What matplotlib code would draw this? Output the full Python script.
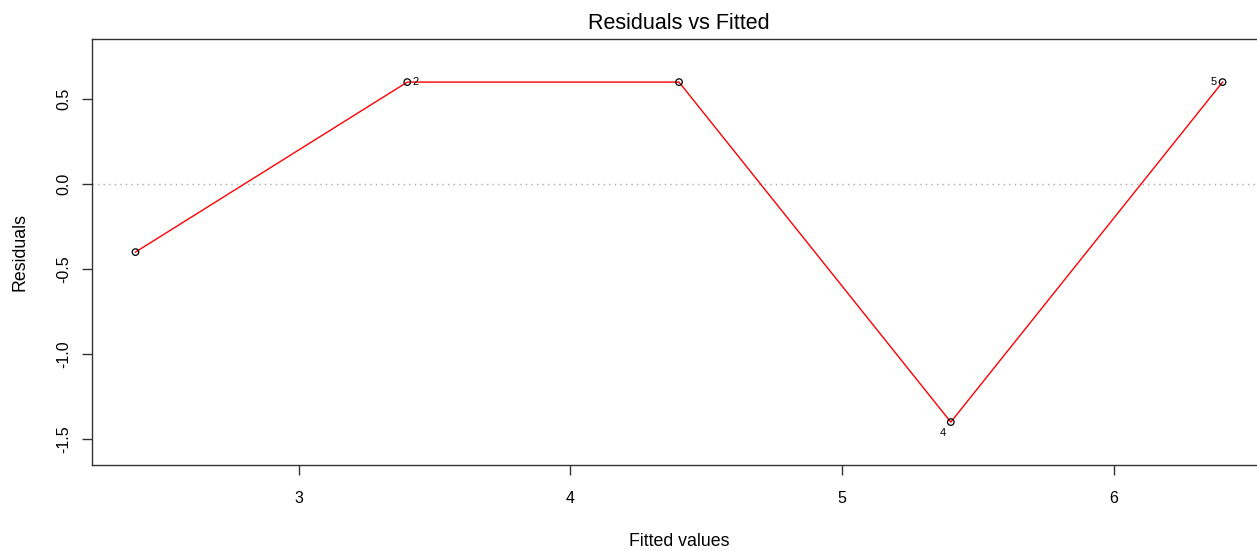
import numpy as np
import matplotlib.pyplot as plt

plt.rcParams['font.family'] = ['Liberation Sans', 'DejaVu Sans']

# fitted values and residuals of the linear model
fitted = [2.4, 3.4, 4.4, 5.4, 6.4]
resid = [-0.4, 0.6, 0.6, -1.4, 0.6]
obs_id = ['1', '2', '3', '4', '5']
flagged = ['2', '4', '5']

fig = plt.figure(figsize=(12.57, 5.51), dpi=100)
ax = fig.add_axes([0.0732, 0.156, 0.934, 0.773])

ax.axhline(0, color='#aaaaaa', ls=(0, (1, 3)), lw=1)
ax.plot(fitted, resid, color='red', lw=1)
ax.scatter(fitted, resid, s=22, facecolors='none', edgecolors='black', linewidths=0.9, zorder=3)

# label the most extreme residuals
for x, y, lab in zip(fitted, resid, obs_id):
    if lab not in flagged:
        continue
    if lab == '2':
        ax.annotate(lab, (x, y), xytext=(4, 0), textcoords='offset points', ha='left', va='center', fontsize=8)
    elif lab == '4':
        ax.annotate(lab, (x, y), xytext=(-6, -8), textcoords='offset points', ha='center', va='center', fontsize=8)
    else:
        ax.annotate(lab, (x, y), xytext=(-4, 0), textcoords='offset points', ha='right', va='center', fontsize=8)

ax.set_xlim(2.24, 6.56)
ax.set_ylim(-1.6528, 0.8528)
ax.set_xticks([3, 4, 5, 6])
ax.set_yticks([-1.5, -1.0, -0.5, 0.0, 0.5])
ax.set_yticklabels(['-1.5', '-1.0', '-0.5', '0.0', '0.5'], rotation=90, va='center')
ax.tick_params(direction='out', length=7, width=1, labelsize=11.5, color='#333333')
ax.tick_params(axis='x', pad=12)
ax.tick_params(axis='y', pad=8)
for sp in ax.spines.values():
    sp.set_linewidth(1)
    sp.set_color('#333333')

ax.set_title('Residuals vs Fitted', fontsize=15.5, pad=7)
ax.set_xlabel('Fitted values', fontsize=12.8, labelpad=19)
ax.set_ylabel('Residuals', fontsize=12.8, labelpad=20)

fig.savefig('out.png', dpi=100)
